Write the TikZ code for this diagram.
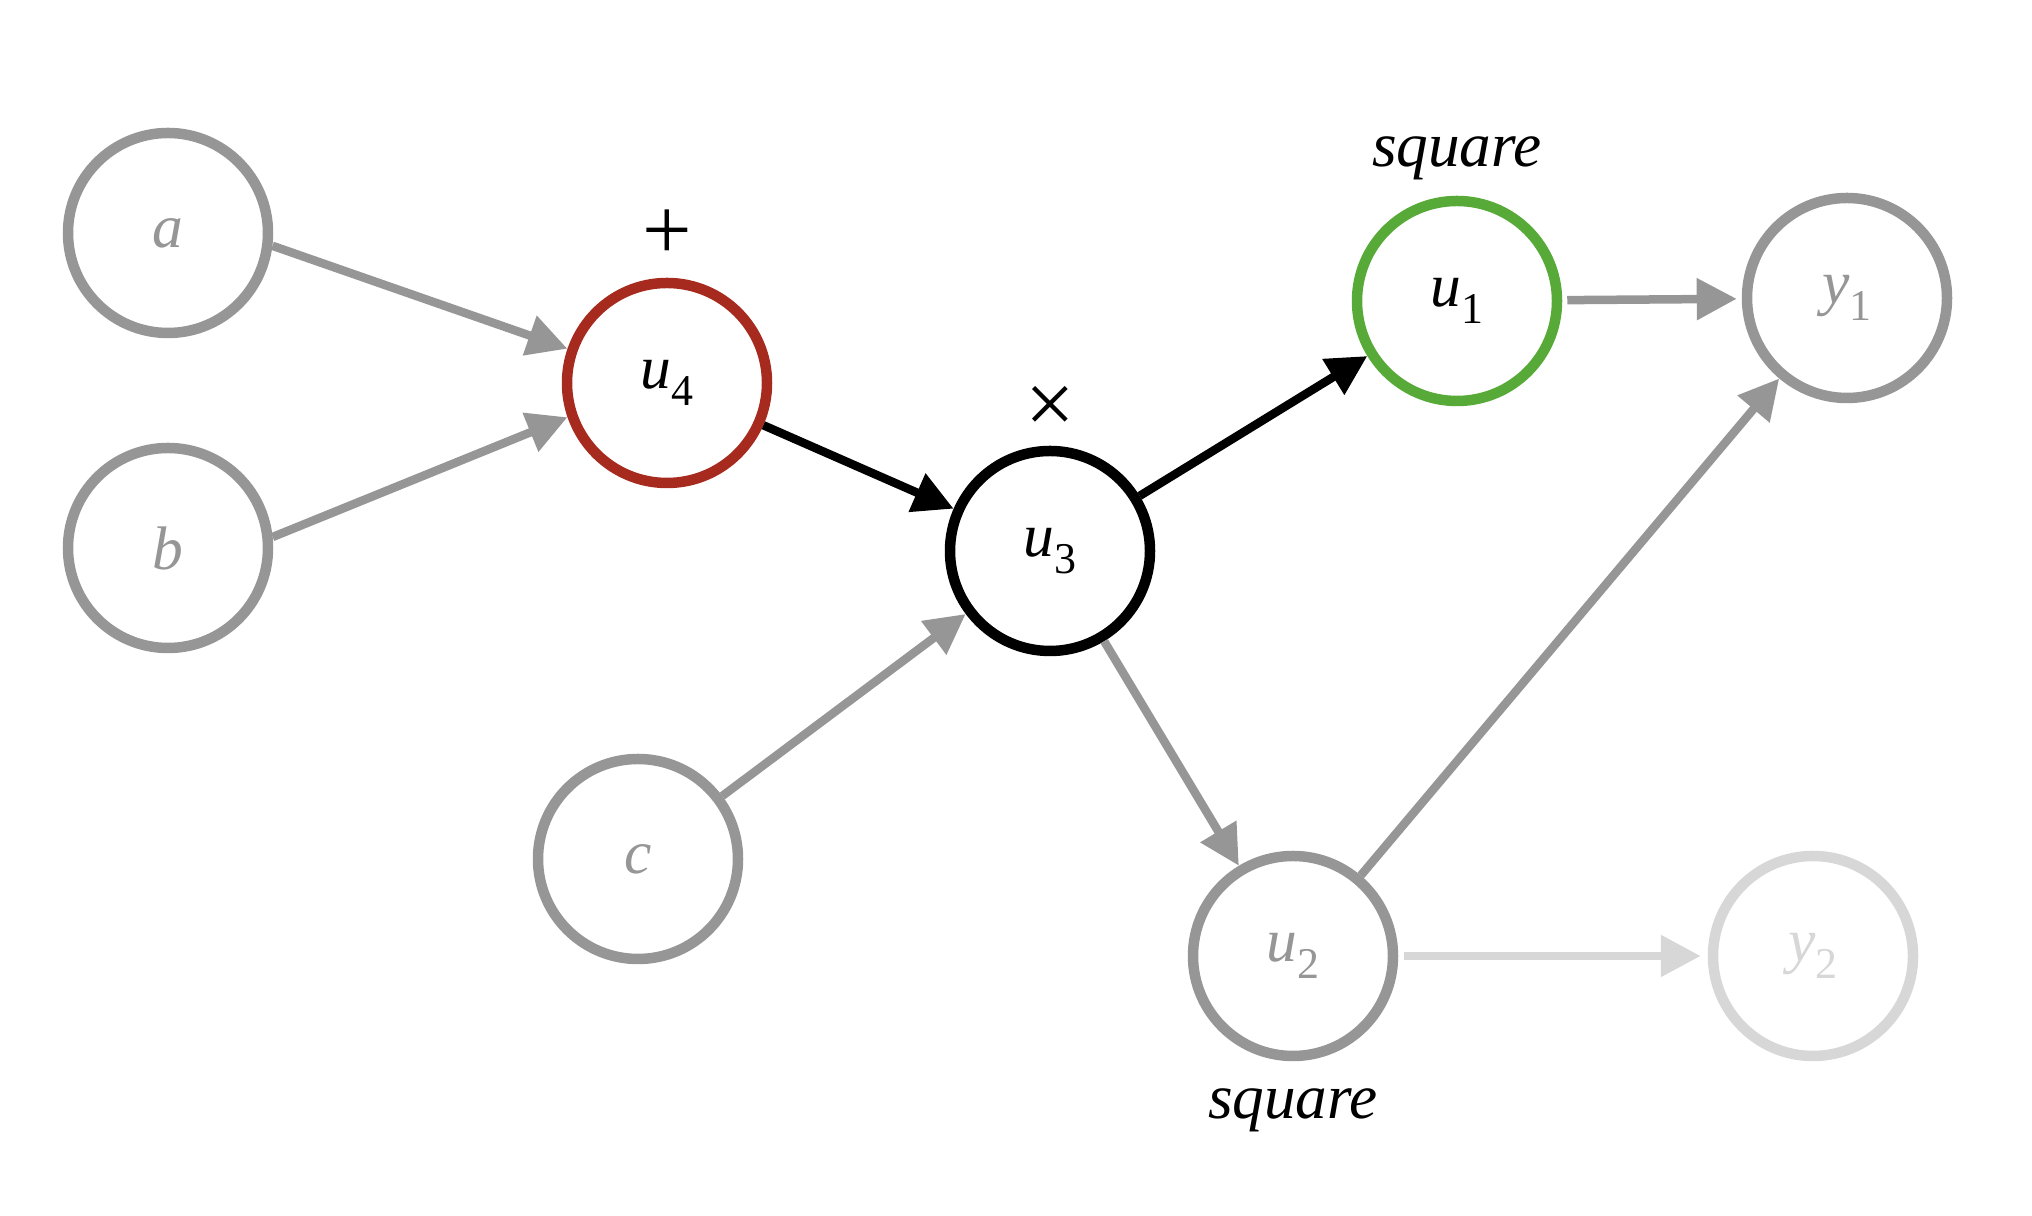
\documentclass[tikz,border=0pt]{standalone}
\usepackage{fontspec}
\setmainfont{Liberation Serif}
\usepackage{xcolor}
\usetikzlibrary{positioning,arrows.meta}
\definecolor{nodegray}{RGB}{150,150,150}
\definecolor{fadegray}{RGB}{215,215,215}
\definecolor{sumred}{RGB}{166,43,30}
\definecolor{sqgreen}{RGB}{88,170,56}
\newcommand{\vlab}[2]{\textit{#1}\raisebox{-0.6ex}{\fontsize{12.5}{13}\selectfont #2}}

\begin{document}
\begin{tikzpicture}[every node/.style={font=\fontsize{17.5}{20}\selectfont}]
  \tikzset{
    var/.style={draw, circle, line width=0.105cm, minimum size=2cm, inner sep=0pt},
    oplabel/.style={inner sep=0pt, font=\fontsize{18}{20}\selectfont},
    oplabelbig/.style={inner sep=0pt, font=\fontsize{25}{26}\selectfont},
    edge/.style={line width=0.085cm, -{Triangle[length=0.4cm, width=0.4cm]}}
  }
  \useasboundingbox (0,0) rectangle (20.32,12.16);

  \node[var, nodegray, text=nodegray] (a)  at (1.68, 9.83)  {\textit{a}};
  \node[var, nodegray, text=nodegray] (b)  at (1.68, 6.68)  {\textit{b}};
  \node[var, nodegray, text=nodegray] (c)  at (6.38, 3.57)  {\textit{c}};
  \node[var, sumred, text=black]      (u4) at (6.67, 8.33)  {\vlab{u}{4}};
  \node[var, black]                   (u3) at (10.50, 6.65) {\vlab{u}{3}};
  \node[var, sqgreen, text=black]     (u1) at (14.57, 9.15) {\vlab{u}{1}};
  \node[var, nodegray, text=nodegray] (u2) at (12.93, 2.60) {\vlab{u}{2}};
  \node[var, nodegray, text=nodegray] (y1) at (18.47, 9.18) {\vlab{y}{1}};
  \node[var, fadegray, text=fadegray] (y2) at (18.13, 2.60) {\vlab{y}{2}};

  \node[oplabelbig, above=0.18cm of u4] (plusop) {+};
  \node[oplabelbig, above=0.12cm of u3] (timesop) {×};
  \node[oplabel, above=0.15cm of u1] (squp) {\textit{square}};
  \node[oplabel, below=0.27cm of u2] (sqdown) {\textit{square}};

  \draw[edge, nodegray] (a.-7) -- (u4.161);
  \draw[edge, nodegray] (b.6) -- (u4.199);
  \draw[edge, black] (u4) -- (u3);
  \draw[edge, nodegray] (c) -- (u3);
  \draw[edge, black] (u3) -- (u1);
  \draw[edge, nodegray] (u3) -- (u2);
  \draw[edge, nodegray, shorten <=0.05cm, shorten >=0.05cm] (u1) -- (y1);
  \draw[edge, nodegray] (u2) -- (y1);
  \draw[edge, fadegray, shorten <=0.06cm, shorten >=0.07cm] (u2) -- (y2);
\end{tikzpicture}
\end{document}
